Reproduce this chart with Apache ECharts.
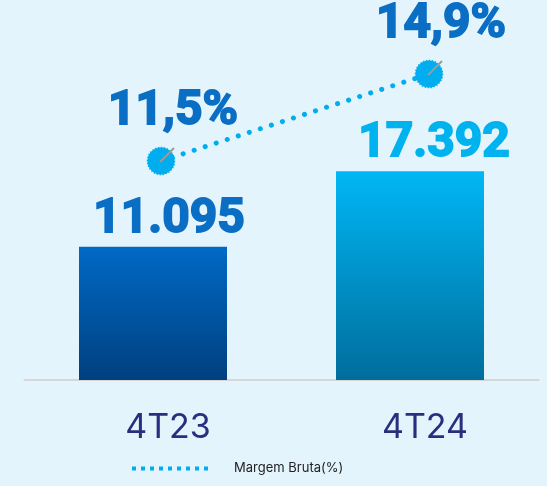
<!DOCTYPE html>
<html>
<head>
<meta charset="utf-8">
<script src="https://cdn.jsdelivr.net/npm/echarts@6/dist/echarts.min.js"></script>
<style>
  html, body { margin: 0; padding: 0; background: #e4f4fc; }
  #chart { width: 547px; height: 486px; }
</style>
</head>
<body>
<div id="chart"></div>
<script>
// dados
var periodos = ['4T23', '4T24'];
var lucroBruto = [11095, 17392];
var margemBruta = [11.5, 14.9];

var fmtMil = function (v) {
	return String(v).replace(/\B(?=(\d{3})+(?!\d))/g, '.');
};
var fmtPct = function (v) {
	return v.toFixed(1).replace('.', ',') + '%';
};

var corBarra = [
	new echarts.graphic.LinearGradient(0, 0, 0, 1, [
		{ offset: 0, color: '#0069c6' },
		{ offset: 1, color: '#00407e' }
	]),
	new echarts.graphic.LinearGradient(0, 0, 0, 1, [
		{ offset: 0, color: '#00b7f5' },
		{ offset: 1, color: '#006d9c' }
	])
];
var corTexto = ['#0a6fc4', '#00b2ee'];
var desloc = [16, 24];

var chart = echarts.init(document.getElementById('chart'));
var fonteForte = 'Roboto, "Liberation Sans", sans-serif';
var fonte = 'Inter, "Open Sans", sans-serif';

var option = {
	backgroundColor: '#e4f4fc',
	animation: false,
	grid: [
		{ left: 24.5, width: 514, top: 140, bottom: 106 },
		{ left: 161, right: 118, top: 74, bottom: 325 }
	],
	legend: {
		left: 125,
		bottom: 6,
		itemWidth: 80,
		itemHeight: 10,
		data: ['Margem Bruta(%)'],
		itemStyle: { opacity: 0 },
		lineStyle: { width: 4, type: [4, 5], cap: 'butt', color: '#00aeef' },
		textStyle: { fontFamily: fonte, fontSize: 13, color: '#222', padding: [0, 0, 0, 17] }
	},
	xAxis: [
		{
			type: 'category',
			gridIndex: 0,
			data: periodos,
			axisTick: { show: false },
			axisLine: { lineStyle: { color: '#d6d6d6', width: 2 } },
			axisLabel: {
				margin: 31,
				fontFamily: fonte,
				fontSize: 34,
				color: '#2b2d7e',
				padding: [0, 0, 0, 30]
			}
		},
		{
			type: 'category',
			gridIndex: 1,
			data: periodos,
			boundaryGap: false,
			show: false
		}
	],
	yAxis: [
		{ type: 'value', gridIndex: 0, min: 0, max: 20000, show: false },
		{ type: 'value', gridIndex: 1, min: 11.5, max: 14.9, show: false }
	],
	series: [
		{
			name: 'Lucro Bruto',
			type: 'bar',
			xAxisIndex: 0,
			yAxisIndex: 0,
			barWidth: 148,
			data: lucroBruto.map(function (v, i) {
				return {
					value: v,
					itemStyle: { color: corBarra[i] },
					label: { color: corTexto[i], textBorderColor: corTexto[i], offset: [desloc[i], 0] }
				};
			}),
			label: {
				show: true,
				position: 'top',
				distance: 3,
				fontFamily: fonteForte,
				fontWeight: 'bold',
				fontSize: 48,
				textBorderWidth: 1.8,
				formatter: function (p) { return fmtMil(p.value); }
			}
		},
		{
			name: 'Margem Bruta(%)',
			type: 'line',
			xAxisIndex: 1,
			yAxisIndex: 1,
			data: margemBruta,
			showSymbol: false,
			symbol: 'none',
			itemStyle: { color: '#00aeef' },
			lineStyle: { color: '#00aeef', width: 5, type: [0.1, 11.5], cap: 'round' },
			z: 3
		},
		{
			name: 'marcador',
			type: 'scatter',
			xAxisIndex: 1,
			yAxisIndex: 1,
			data: margemBruta,
			symbol: 'circle',
			symbolSize: 27,
			itemStyle: { color: '#00aeef', opacity: 1, borderColor: '#00aeef', borderWidth: 1.5, borderType: [1.5, 1.5] },
			label: {
				show: true,
				position: 'top',
				distance: 11,
				offset: [12, 0],
				fontFamily: fonteForte,
				fontWeight: 'bold',
				fontSize: 48,
				color: '#0a6fc4',
				textBorderColor: '#0a6fc4',
				textBorderWidth: 1.8,
				formatter: function (p) { return fmtPct(p.value); }
			},
			z: 4
		},
		{
			name: 'haste',
			type: 'scatter',
			xAxisIndex: 1,
			yAxisIndex: 1,
			data: margemBruta,
			symbol: 'path://M0,20 L20,0',
			symbolSize: 14,
			symbolOffset: [6, -6],
			itemStyle: { color: 'none', opacity: 1, borderColor: '#9a9a9a', borderWidth: 2 },
			silent: true,
			z: 5
		}
	]
};
chart.setOption(option);
</script>
</body>
</html>
